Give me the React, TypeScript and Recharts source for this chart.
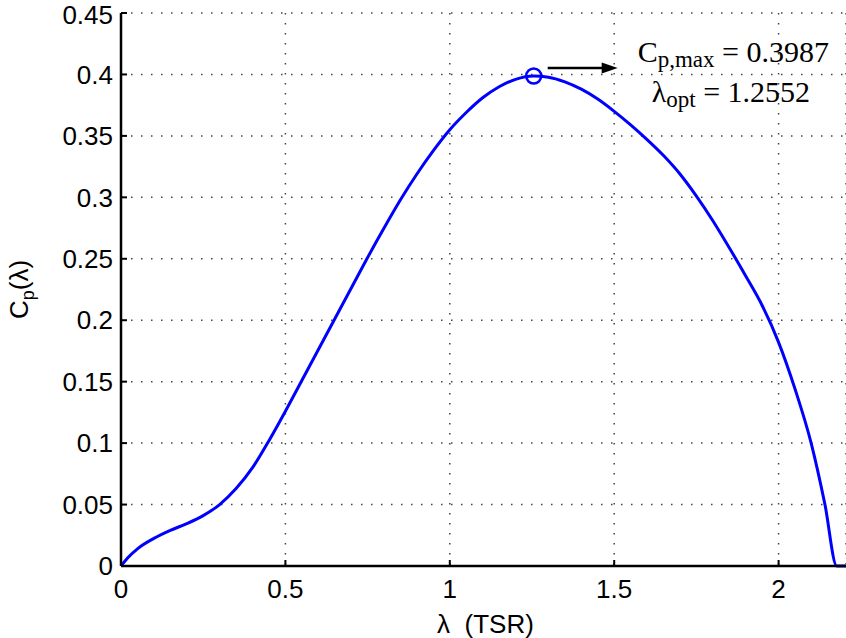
import { LineChart, Line, XAxis, YAxis, CartesianGrid, ReferenceDot } from 'recharts';

const lambdaValues = [
  0, 0.02, 0.05, 0.1, 0.15, 0.2, 0.25, 0.3, 0.35, 0.4, 0.45, 0.5, 0.55, 0.6, 0.65, 0.7, 0.75, 0.8,
  0.85, 0.9, 0.95, 1.0, 1.05, 1.1, 1.15, 1.2, 1.2552, 1.3, 1.35, 1.4, 1.45, 1.5, 1.55, 1.6, 1.65,
  1.7, 1.75, 1.8, 1.85, 1.9, 1.95, 2.0, 2.05, 2.1, 2.141, 2.177, 2.205,
];
const cpValues = [
  0, 0.0065, 0.014, 0.0225, 0.029, 0.0345, 0.041, 0.05, 0.063, 0.08, 0.102, 0.126, 0.151, 0.176,
  0.201, 0.226, 0.251, 0.275, 0.298, 0.319, 0.338, 0.355, 0.369, 0.381, 0.39, 0.396, 0.3987, 0.3978,
  0.394, 0.388, 0.38, 0.37, 0.359, 0.347, 0.334, 0.319, 0.301, 0.281, 0.259, 0.236, 0.212, 0.182,
  0.144, 0.099, 0.05, 0, 0,
];
const xTicks = [0, 0.5, 1, 1.5, 2];
const yTicks = [0, 0.05, 0.1, 0.15, 0.2, 0.25, 0.3, 0.35, 0.4, 0.45];
const peakLambda = 1.2552;
const peakCp = 0.3987;

const data = lambdaValues.map((l, i) => ({ lambda: l, cp: cpValues[i] }));

const sans = '"Liberation Sans", Arial, Helvetica, sans-serif';
const serif = '"Liberation Serif", "Times New Roman", serif';
const tickStyle = { fill: '#000', fontSize: 26, fontFamily: sans };
const axisLineStyle = { stroke: '#000', strokeWidth: 2.5 };
const tickLineStyle = { stroke: '#000', strokeWidth: 2 };

const PeakNote = (props: any) => {
  const vb = props.viewBox;
  const cx = vb.x + vb.width / 2;
  const cy = vb.y + vb.height / 2;
  const ay = cy - 8;
  return (
    <g>
      <line x1={cx + 14} y1={ay} x2={cx + 72} y2={ay} stroke="#000" strokeWidth={2.5} />
      <path d={`M${cx + 84},${ay} L${cx + 68},${ay - 5.5} L${cx + 68},${ay + 5.5} Z`} fill="#000" />
      <text x={cx + 104} y={cy - 14} fontFamily={serif} fontSize={30} fill="#000">
        C<tspan fontSize={23} dy={5}>p,max</tspan>
        <tspan dy={-5}> = {peakCp}</tspan>
      </text>
      <text x={cx + 118} y={cy + 26} fontFamily={serif} fontSize={30} fill="#000">
        λ<tspan fontSize={23} dy={5}>opt</tspan>
        <tspan dy={-5}> = {peakLambda}</tspan>
      </text>
    </g>
  );
};

const YLabel = (props: any) => {
  const vb = props.viewBox;
  const x = vb.x + 28;
  const y = vb.y + vb.height / 2;
  return (
    <text x={x} y={y} transform={`rotate(-90 ${x} ${y})`} textAnchor="middle" fontFamily={sans} fontSize={26} fill="#000">
      C<tspan fontSize={18} dy={6}>p</tspan>
      <tspan dy={-6}>(λ)</tspan>
    </text>
  );
};

const XLabel = (props: any) => {
  const vb = props.viewBox;
  return (
    <text x={vb.x + vb.width / 2 + 2} y={633} textAnchor="middle" fontFamily={sans} fontSize={26} fill="#000">
      λ{'\u00a0\u00a0'}(TSR)
    </text>
  );
};

export default function App() {
  return (
    <div style={{ position: 'absolute', left: 0, top: 0, background: '#fff' }}>
      <LineChart width={846} height={638} data={data} margin={{ top: 13, right: 0, bottom: 0, left: 0 }}>
        <CartesianGrid stroke="#444" strokeWidth={1.5} strokeDasharray="1.5 8.5" />
        <XAxis
          dataKey="lambda"
          type="number"
          domain={[0, 2.205]}
          ticks={xTicks}
          allowDataOverflow
          height={72}
          stroke="#000"
          tickSize={-6}
          tickMargin={20}
          tick={tickStyle}
          axisLine={axisLineStyle}
          tickLine={tickLineStyle}
          label={<XLabel />}
        />
        <XAxis
          xAxisId="top"
          orientation="top"
          dataKey="lambda"
          type="number"
          domain={[0, 2.205]}
          ticks={xTicks}
          allowDataOverflow
          height={0}
          stroke="#000"
          tickSize={-6}
          tick={false}
          axisLine={axisLineStyle}
          tickLine={tickLineStyle}
        />
        <YAxis
          type="number"
          domain={[0, 0.45]}
          ticks={yTicks}
          width={121}
          stroke="#000"
          tickSize={-6}
          tickMargin={14}
          tick={tickStyle}
          axisLine={axisLineStyle}
          tickLine={tickLineStyle}
          label={<YLabel />}
        />
        <Line
          type="monotone"
          dataKey="cp"
          stroke="#0000ff"
          strokeWidth={3}
          dot={false}
          isAnimationActive={false}
        />
        <ReferenceDot
          x={peakLambda}
          y={peakCp}
          r={7.5}
          fill="none"
          stroke="#0000ff"
          strokeWidth={2.5}
          label={<PeakNote />}
        />
      </LineChart>
    </div>
  );
}
